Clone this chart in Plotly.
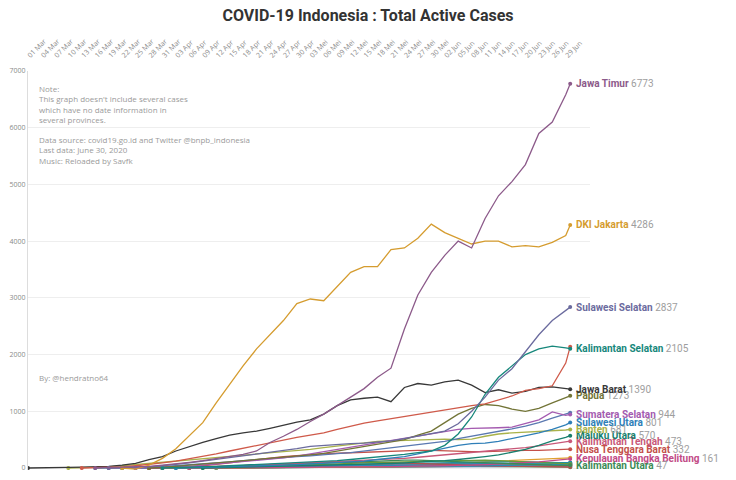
import pandas as pd
import plotly.graph_objects as go

# dates sampled every 3 days + last day
DATES = list(pd.date_range("2020-03-01", "2020-06-29", freq="3D")) + [pd.Timestamp("2020-06-30")]

TICK_LABELS = ["01 Mar", "04 Mar", "07 Mar", "10 Mar", "13 Mar", "16 Mar", "19 Mar", "22 Mar", "25 Mar",
               "28 Mar", "31 Mar", "03 Apr", "06 Apr", "09 Apr", "12 Apr", "15 Apr", "18 Apr", "21 Apr",
               "24 Apr", "27 Apr", "30 Apr", "03 Mei", "06 Mei", "09 Mei", "12 Mei", "15 Mei", "18 Mei",
               "21 Mei", "24 Mei", "27 Mei", "30 Mei", "02 Jun", "05 Jun", "08 Jun", "11 Jun", "14 Jun",
               "17 Jun", "20 Jun", "23 Jun", "26 Jun", "29 Jun"]

# each series ends on 30 Jun; it starts len(values) points before the end
JAWA_TIMUR = [0, 5, 10, 20, 30, 50, 70, 100, 130, 170, 200, 240, 300, 450, 560, 680, 820, 950, 1100, 1250,
              1400, 1600, 1760, 2450, 3050, 3450, 3750, 4000, 3880, 4400, 4800, 5050, 5350, 5900, 6100, 6580, 6773]
DKI_JAKARTA = [0, -20, 50, 170, 340, 570, 800, 1150, 1480, 1800, 2100, 2350, 2600, 2900, 2980, 2950, 3200,
               3450, 3550, 3550, 3850, 3880, 4050, 4300, 4150, 4050, 3950, 4000, 4000, 3900, 3920, 3900,
               3980, 4100, 4286]
SULAWESI_SELATAN = [0, 5, 10, 20, 40, 60, 90, 120, 150, 180, 210, 250, 280, 310, 340, 380, 400, 420, 430, 440,
                    460, 480, 520, 560, 600, 650, 780, 1000, 1250, 1550, 1750, 2050, 2350, 2600, 2780, 2837]
KALIMANTAN_SELATAN = [0, 5, 10, 20, 30, 40, 50, 60, 70, 80, 90, 100, 110, 130, 150, 170, 190, 210, 240, 270,
                      300, 400, 600, 900, 1300, 1600, 1800, 2000, 2100, 2150, 2120, 2105]
JAWA_TENGAH = [0, 5, 10, 20, 40, 60, 90, 120, 160, 200, 250, 300, 350, 400, 450, 500, 540, 580, 620, 680, 740,
               790, 830, 870, 900, 950, 990, 1020, 1060, 1100, 1130, 1200, 1270, 1370, 1400, 1450, 1850, 2140]
JAWA_BARAT = [0, 0, 5, 10, 15, 20, 30, 50, 80, 150, 200, 300, 380, 450, 520, 580, 620, 650, 700, 760, 810, 850,
              950, 1100, 1200, 1230, 1250, 1170, 1420, 1490, 1460, 1520, 1550, 1460, 1330, 1380, 1320, 1350,
              1420, 1430, 1400, 1390]
PAPUA = [0, 10, 30, 50, 70, 90, 100, 120, 140, 160, 180, 200, 230, 260, 300, 340, 380, 420, 460, 500, 580, 650,
         800, 950, 1050, 1120, 1100, 1040, 1000, 1050, 1150, 1250, 1273]
SUMATERA_SELATAN = [0, 5, 10, 20, 30, 50, 70, 90, 110, 130, 150, 180, 210, 250, 290, 330, 370, 400, 440, 480,
                    520, 560, 600, 640, 680, 700, 700, 710, 720, 780, 850, 990, 930, 944]
SUMATERA_UTARA = [0, 5, 12, 25, 40, 55, 70, 95, 110, 130, 150, 170, 185, 200, 215, 240, 255, 270, 300, 320, 350,
                  385, 420, 440, 470, 520, 560, 600, 640, 690, 740, 800, 880, 950, 975]
SULAWESI_UTARA = [0, 5, 10, 15, 20, 25, 30, 40, 50, 60, 70, 80, 90, 100, 120, 150, 180, 200, 250, 300, 350, 400,
                  430, 440, 470, 520, 560, 620, 680, 760, 801]
BANTEN = [0, 5, 10, 20, 40, 60, 80, 100, 120, 150, 170, 190, 210, 230, 250, 270, 290, 310, 330, 360, 390, 420,
          450, 470, 480, 490, 500, 500, 510, 500, 510, 560, 600, 620, 630, 650, 660, 670, 681]
MALUKU_UTARA = [0, 5, 10, 15, 20, 25, 30, 35, 40, 45, 50, 55, 60, 70, 80, 90, 100, 110, 130, 150, 170, 200, 230,
                280, 330, 400, 480, 540, 570]
KALIMANTAN_TENGAH = [0, 5, 10, 15, 20, 30, 40, 50, 60, 70, 80, 90, 100, 110, 120, 130, 140, 150, 170, 190, 210,
                     230, 250, 270, 290, 310, 330, 360, 390, 420, 450, 473]
NTB = [0, 5, 10, 20, 40, 60, 90, 120, 150, 180, 200, 220, 240, 250, 260, 270, 280, 290, 300, 300, 310, 310, 300,
       300, 290, 290, 300, 300, 310, 310, 320, 330, 332]
KALIMANTAN_UTARA = [0, 2, 5, 10, 20, 30, 40, 50, 60, 70, 80, 90, 100, 110, 120, 130, 135, 140, 140, 130, 120, 110,
                    100, 90, 80, 70, 60, 55, 50, 48, 47]
BANGKA_BELITUNG = [0, 1, 2, 3, 4, 5, 5, 6, 8, 10, 12, 15, 18, 20, 22, 25, 28, 30, 35, 40, 45, 50, 60, 70, 80, 95,
                   110, 130, 150, 161]
BALI = [0, 2, 4, 6, 10, 15, 20, 25, 30, 40, 50, 60, 70, 80, 90, 95, 100, 105, 110, 115, 120, 125, 130, 135, 140,
        130, 120, 110, 100, 90, 80, 72]
KEPRI = [0, 1, 2, 3, 5, 8, 10, 15, 20, 25, 30, 35, 40, 45, 50, 50, 48, 45, 42, 40, 38, 36, 35, 34, 33, 32, 34, 36,
         40, 45, 50, 55, 60, 65, 70]
SUMATERA_BARAT = [0, 2, 4, 8, 15, 25, 35, 45, 55, 65, 75, 85, 95, 100, 105, 110, 108, 100, 95, 90, 80, 70, 60, 50,
                  45, 40, 35, 30, 28, 25, 22, 20, 18]
DIY = [0, 1, 2, 4, 6, 8, 10, 15, 20, 25, 30, 35, 40, 45, 50, 55, 60, 60, 58, 55, 52, 50, 48, 45, 42, 40, 38, 36,
       35, 34, 33, 32, 31, 30, 30, 30]
RIAU = [0, 1, 2, 3, 5, 8, 10, 12, 15, 18, 20, 22, 25, 28, 30, 32, 35, 38, 40, 38, 36, 34, 32, 30, 28, 26, 24, 22,
        20, 18, 16, 15]
LAMPUNG = [0, 2, 4, 7, 9, 10, 12, 16, 18, 21, 22, 24, 29, 30, 31, 34, 37, 38, 40, 43, 44, 45, 49, 50, 51, 55, 56,
           57, 61, 62, 64, 66]
JAMBI = [0, 1, 2, 3, 4, 5, 6, 8, 10, 12, 14, 16, 18, 20, 22, 25, 28, 30, 32, 35, 38, 40, 42, 45, 48, 50, 52, 55,
         58, 60]
BENGKULU = [0, 1, 2, 3, 4, 5, 6, 7, 8, 9, 10, 11, 12, 13, 14, 15, 16, 17, 18, 20, 22, 24, 26, 28, 30, 32, 34, 36,
            38, 40]
ACEH = [0, 1, 2, 3, 4, 5, 5, 6, 6, 7, 7, 8, 8, 9, 9, 10, 10, 11, 11, 12, 12, 13, 14, 15, 16, 17, 18, 19, 20, 22,
        24, 26, 28]
NTT = [0, 1, 2, 3, 4, 5, 6, 8, 10, 12, 15, 18, 20, 22, 25, 28, 30, 32, 35, 38, 40, 42, 45, 48, 50, 52, 55, 58, 60,
       62]
KALIMANTAN_BARAT = [0, 2, 4, 6, 8, 10, 12, 15, 18, 20, 25, 30, 35, 40, 45, 50, 55, 60, 65, 70, 75, 80, 85, 90, 95,
                    100, 105, 110, 115, 120, 115, 110, 105, 100, 95, 90]
KALIMANTAN_TIMUR = [0, 2, 4, 6, 8, 10, 12, 15, 18, 20, 22, 25, 28, 30, 32, 35, 38, 40, 42, 45, 48, 50, 52, 55, 58,
                    60, 62, 65, 68, 70, 72, 74, 76, 78, 80, 82, 84]
SULAWESI_TENGAH = [0, 2, 4, 6, 8, 10, 12, 14, 16, 18, 20, 25, 30, 35, 40, 45, 50, 55, 60, 65, 70, 72, 74, 76, 78,
                   80, 82, 84, 86, 88, 90, 92]
SULAWESI_TENGGARA = [0, 1, 2, 3, 5, 8, 10, 12, 15, 18, 20, 22, 25, 28, 30, 35, 40, 45, 50, 55, 60, 65, 70, 72, 74,
                     76, 78, 80, 82, 84, 86, 88, 90, 92]
SULAWESI_BARAT = [0, 1, 2, 3, 4, 5, 6, 8, 10, 12, 14, 16, 18, 20, 22, 24, 26, 28, 30, 32, 34, 36, 38, 40, 42, 44,
                  46, 48]
GORONTALO = [0, 1, 2, 3, 4, 5, 6, 7, 8, 9, 10, 12, 14, 16, 18, 20, 22, 25, 28, 30, 35, 40, 45, 50, 55, 60, 65, 70]
MALUKU = [0, 1, 2, 4, 6, 8, 10, 12, 15, 18, 20, 25, 30, 35, 40, 45, 50, 60, 70, 80, 90, 100, 110, 120, 130, 140,
          150, 160, 170, 180]
PAPUA_BARAT = [0, 1, 2, 3, 4, 5, 6, 8, 10, 12, 14, 16, 18, 20, 25, 30, 35, 40, 45, 50, 55, 60, 62, 64, 66, 68, 70,
               72, 73]

# (name, values, colour, show label) - small ones first so the big lines sit on top
series = [
    ("Aceh", ACEH, "#6f8fb8", False),
    ("Riau", RIAU, "#5a9a50", False),
    ("Jambi", JAMBI, "#b07040", False),
    ("Bengkulu", BENGKULU, "#9a70b0", False),
    ("Lampung", LAMPUNG, "#d07090", False),
    ("Nusa Tenggara Timur", NTT, "#509090", False),
    ("Sulawesi Barat", SULAWESI_BARAT, "#907050", False),
    ("Gorontalo", GORONTALO, "#70a070", False),
    ("Papua Barat", PAPUA_BARAT, "#c08040", False),
    ("Maluku", MALUKU, "#e0a030", False),
    ("Sulawesi Tengah", SULAWESI_TENGAH, "#8080b0", False),
    ("Sulawesi Tenggara", SULAWESI_TENGGARA, "#3070a0", False),
    ("Kalimantan Timur", KALIMANTAN_TIMUR, "#2a9ab0", False),
    ("Kalimantan Barat", KALIMANTAN_BARAT, "#1f8fa0", False),
    ("DI Yogyakarta", DIY, "#a070a0", False),
    ("Sumatera Barat", SUMATERA_BARAT, "#b05050", False),
    ("Kepulauan Riau", KEPRI, "#2a8ab8", False),
    ("Bali", BALI, "#6a9a3a", False),
    ("Kepulauan Bangka Belitung", BANGKA_BELITUNG, "#c24a86", True),
    ("Kalimantan Utara", KALIMANTAN_UTARA, "#3d8a55", True),
    ("Nusa Tenggara Barat", NTB, "#c4504a", True),
    ("Kalimantan Tengah", KALIMANTAN_TENGAH, "#c85878", True),
    ("Maluku Utara", MALUKU_UTARA, "#197f6d", True),
    ("Banten", BANTEN, "#a9b24a", True),
    ("Sulawesi Utara", SULAWESI_UTARA, "#2f7fb8", True),
    ("Sumatera Utara", SUMATERA_UTARA, "#5a78b0", False),
    ("Sumatera Selatan", SUMATERA_SELATAN, "#a45bb0", True),
    ("Papua", PAPUA, "#727436", True),
    ("Jawa Barat", JAWA_BARAT, "#383838", True),
    ("Jawa Tengah", JAWA_TENGAH, "#cf5a4a", False),
    ("Kalimantan Selatan", KALIMANTAN_SELATAN, "#16877b", True),
    ("Sulawesi Selatan", SULAWESI_SELATAN, "#6b6b9e", True),
    ("DKI Jakarta", DKI_JAKARTA, "#d59c2f", True),
    ("Jawa Timur", JAWA_TIMUR, "#8c5a8a", True),
]

fig = go.Figure()
annotations = []
for name, vals, color, labelled in series:
    x = DATES[-len(vals):]
    fig.add_trace(go.Scatter(x=x, y=vals, mode="lines", name=name,
                             line=dict(color=color, width=1.3), hoverinfo="skip"))
    # dots at the first and last point
    fig.add_trace(go.Scatter(x=[x[0], x[-1]], y=[vals[0], vals[-1]], mode="markers",
                             marker=dict(color=color, size=4), hoverinfo="skip"))
    if labelled:
        annotations.append(dict(
            x=x[-1], y=vals[-1], xref="x", yref="y", xanchor="left", yanchor="middle",
            xshift=4, showarrow=False,
            text=f"<b>{name}</b> <span style='color:#9e9e9e'>{vals[-1]}</span>",
            font=dict(family="Roboto", size=10, color=color)))

note_font = dict(family="Open Sans", size=8, color="#9a9a9a")
annotations += [
    dict(xref="paper", yref="paper", x=0.016, y=0.975, xanchor="left", yanchor="top", align="left",
         showarrow=False, font=note_font,
         text="Note:<br>This graph doesn't include several cases<br>which have no date information in<br>several provinces."),
    dict(xref="paper", yref="paper", x=0.016, y=0.848, xanchor="left", yanchor="top", align="left",
         showarrow=False, font=note_font,
         text="Data source: covid19.go.id and Twitter @bnpb_indonesia<br>Last data: June 30, 2020<br>Music: Reloaded by Savfk"),
    dict(xref="paper", yref="paper", x=0.016, y=0.233, xanchor="left", yanchor="middle", align="left",
         showarrow=False, font=note_font, text="By: @hendratno64"),
]

fig.update_layout(
    width=736, height=480,
    margin=dict(l=28, r=146, t=71, b=10),
    paper_bgcolor="white", plot_bgcolor="white",
    showlegend=False,
    title=dict(text="<b>COVID-19 Indonesia : Total Active Cases</b>", x=0.5, xref="container",
               y=0.967, yanchor="middle", font=dict(family="Roboto", size=16, color="#333333")),
    annotations=annotations,
)
fig.update_xaxes(
    side="top", range=["2020-03-01", "2020-07-04 10:00"],
    tickvals=DATES[:len(TICK_LABELS)], ticktext=TICK_LABELS, tickangle=-45,
    tickfont=dict(family="Open Sans", size=7, color="#8a8a8a"),
    ticks="outside", ticklen=8, tickcolor="rgba(0,0,0,0)",
    showgrid=False, showline=False, zeroline=False, automargin=False,
)
fig.update_yaxes(
    range=[-35, 7000], tickvals=[0, 1000, 2000, 3000, 4000, 5000, 6000, 7000],
    tickfont=dict(family="Open Sans", size=7, color="#8a8a8a"),
    showgrid=True, gridcolor="#eeeeee", showline=True, linecolor="#dddddd",
    zeroline=False, automargin=False,
)

# drop the default page margin so the figure sits at the window's corner
fig.write_html("out.html", config={"displayModeBar": False},
               post_script="document.body.style.margin='0';")
